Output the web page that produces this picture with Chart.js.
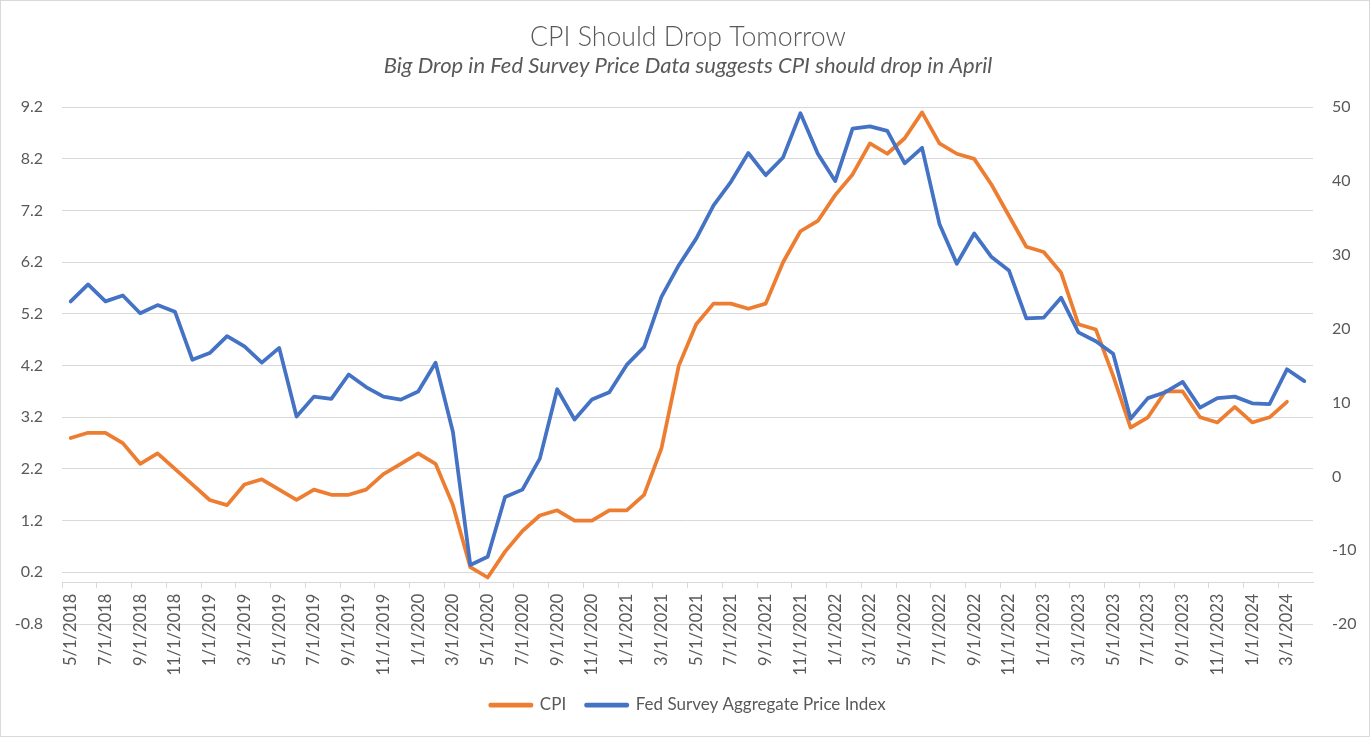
<!DOCTYPE html>
<html>
<head>
<meta charset="utf-8">
<script src="https://cdn.jsdelivr.net/npm/chart.js@4.4.1/dist/chart.umd.min.js"></script>
<style>
  html, body { margin: 0; padding: 0; background: #ffffff; }
  #wrap { position: relative; width: 1370px; height: 737px; }
  #wrap canvas { position: absolute; left: 0; top: 0; }
  #frame { position: absolute; inset: 0; border: 1px solid #d9d9d9; pointer-events: none; }
</style>
</head>
<body>
<div id="wrap"><canvas id="c"></canvas><div id="frame"></div></div>
<script>
const months = [
  "5/1/2018","6/1/2018","7/1/2018","8/1/2018","9/1/2018","10/1/2018","11/1/2018","12/1/2018",
  "1/1/2019","2/1/2019","3/1/2019","4/1/2019","5/1/2019","6/1/2019","7/1/2019","8/1/2019","9/1/2019","10/1/2019","11/1/2019","12/1/2019",
  "1/1/2020","2/1/2020","3/1/2020","4/1/2020","5/1/2020","6/1/2020","7/1/2020","8/1/2020","9/1/2020","10/1/2020","11/1/2020","12/1/2020",
  "1/1/2021","2/1/2021","3/1/2021","4/1/2021","5/1/2021","6/1/2021","7/1/2021","8/1/2021","9/1/2021","10/1/2021","11/1/2021","12/1/2021",
  "1/1/2022","2/1/2022","3/1/2022","4/1/2022","5/1/2022","6/1/2022","7/1/2022","8/1/2022","9/1/2022","10/1/2022","11/1/2022","12/1/2022",
  "1/1/2023","2/1/2023","3/1/2023","4/1/2023","5/1/2023","6/1/2023","7/1/2023","8/1/2023","9/1/2023","10/1/2023","11/1/2023","12/1/2023",
  "1/1/2024","2/1/2024","3/1/2024","4/1/2024"
];

const cpi = [
  2.8,2.9,2.9,2.7,2.3,2.5,2.2,1.9,1.6,1.5,1.9,2.0,
  1.8,1.6,1.8,1.7,1.7,1.8,2.1,2.3,2.5,2.3,1.5,0.3,
  0.1,0.6,1.0,1.3,1.4,1.2,1.2,1.4,1.4,1.7,2.6,4.2,
  5.0,5.4,5.4,5.3,5.4,6.2,6.8,7.0,7.5,7.9,8.5,8.3,
  8.6,9.1,8.5,8.3,8.2,7.7,7.1,6.5,6.4,6.0,5.0,4.9,
  4.0,3.0,3.2,3.7,3.7,3.2,3.1,3.4,3.1,3.2,3.5
];

const fedPrice = [
  23.7,26.0,23.7,24.5,22.1,23.2,22.3,15.8,16.7,19.0,17.6,15.4,
  17.4,8.1,10.8,10.5,13.8,12.1,10.8,10.4,11.5,15.4,6.0,-12.0,
  -10.9,-2.8,-1.8,2.4,11.8,7.7,10.4,11.4,15.1,17.5,24.3,28.6,
  32.2,36.7,39.9,43.8,40.8,43.2,49.2,43.7,40.0,47.1,47.4,46.8,
  42.4,44.5,34.2,28.8,32.9,29.7,27.9,21.4,21.5,24.2,19.5,18.3,
  16.6,7.8,10.6,11.4,12.8,9.3,10.6,10.8,9.9,9.8,14.5,12.9
];

const leftAxis = { min: -0.8, max: 9.2, step: 1 };
const rightAxis = { min: -20, max: 50, step: 10 };

const titleText = "CPI Should Drop Tomorrow";
const subtitleText = "Big Drop in Fed Survey Price Data suggests CPI should drop in April";
const seriesNames = ["CPI", "Fed Survey Aggregate Price Index"];

const ORANGE = "#ED7D31";
const BLUE = "#4472C4";
const GRID = "#d9d9d9";
const TEXT = "#595959";

Chart.defaults.font.family = "Lato, 'Open Sans', sans-serif";
Chart.defaults.color = TEXT;

new Chart(document.getElementById("c"), {
  type: "line",
  data: {
    labels: months,
    datasets: [
      {
        label: seriesNames[0],
        data: cpi,
        borderColor: ORANGE,
        backgroundColor: ORANGE,
        borderWidth: 3.75,
        pointRadius: 0,
        tension: 0,
        borderJoinStyle: "round",
        borderCapStyle: "round",
        xAxisID: "x",
        yAxisID: "y",
        order: 1
      },
      {
        label: seriesNames[1],
        data: fedPrice,
        borderColor: BLUE,
        backgroundColor: BLUE,
        borderWidth: 3.75,
        pointRadius: 0,
        tension: 0,
        borderJoinStyle: "round",
        borderCapStyle: "round",
        xAxisID: "x",
        yAxisID: "y1",
        order: 0
      }
    ]
  },
  options: {
    responsive: true,
    maintainAspectRatio: false,
    animation: false,
    layout: { padding: { left: 6, right: 0, top: 0, bottom: 13.5 } },
    plugins: {
      tooltip: { enabled: false },
      title: {
        display: true,
        text: titleText,
        color: TEXT,
        font: { size: 26.7, weight: 300, lineHeight: 1.2 },
        padding: { top: 21, bottom: 0 }
      },
      subtitle: {
        display: true,
        text: subtitleText,
        color: TEXT,
        font: { size: 22, style: "italic", weight: "normal", lineHeight: 1.2 },
        padding: { top: 0, bottom: 27.8 }
      },
      legend: {
        display: true,
        position: "bottom",
        labels: {
          color: TEXT,
          font: { size: 17 },
          boxWidth: 41,
          boxHeight: 1,
          padding: 20,
          sort: (a, b) => a.datasetIndex - b.datasetIndex
        }
      }
    },
    scales: {
      x: {
        type: "category",
        position: { y: 0 },
        offset: true,
        grid: {
          offset: true,
          drawOnChartArea: false,
          drawTicks: true,
          tickLength: 5,
          tickColor: (ctx) => (ctx.index % 2 === 0 ? GRID : "rgba(0,0,0,0)")
        },
        border: { display: true, color: GRID, width: 1 },
        ticks: {
          autoSkip: false,
          minRotation: 90,
          maxRotation: 90,
          padding: 6,
          color: TEXT,
          font: { size: 16.5 },
          callback: function (val, index) {
            return index % 2 === 0 ? this.getLabelForValue(val) : "";
          }
        }
      },
      xspace: {
        type: "linear",
        axis: "x",
        position: "bottom",
        display: true,
        grid: { display: false },
        border: { display: false },
        ticks: { display: false },
        afterFit: (s) => { s.height = 52.5; }
      },
      y: {
        type: "linear",
        position: "left",
        min: leftAxis.min,
        max: leftAxis.max,
        ticks: { stepSize: leftAxis.step, padding: 19, color: TEXT, font: { size: 16 } },
        grid: { color: GRID, lineWidth: 1, drawTicks: false },
        border: { display: false },
        afterFit: (s) => { s.width = 56; }
      },
      y1: {
        type: "linear",
        position: "right",
        min: rightAxis.min,
        max: rightAxis.max,
        ticks: { stepSize: rightAxis.step, padding: 19, color: TEXT, font: { size: 16 } },
        grid: { drawOnChartArea: false, drawTicks: false },
        border: { display: false },
        afterFit: (s) => { s.width = 57; }
      }
    }
  }
});
</script>
</body>
</html>
